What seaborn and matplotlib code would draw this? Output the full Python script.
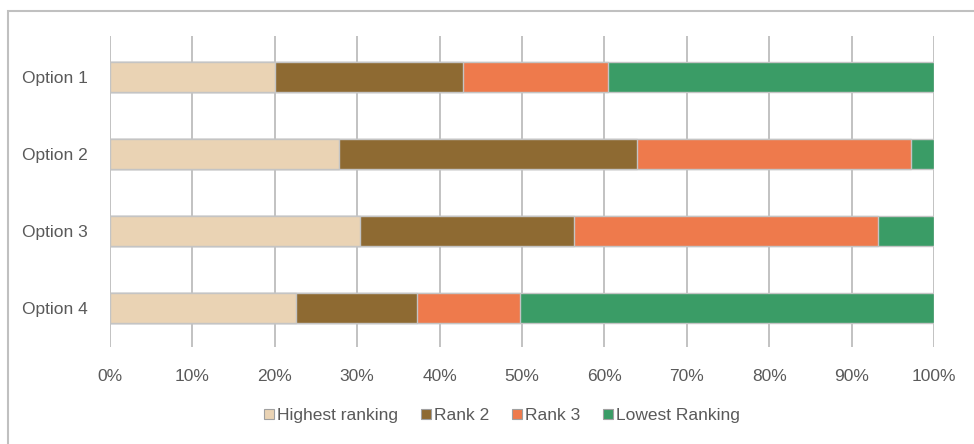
import matplotlib
matplotlib.use("Agg")
import matplotlib.pyplot as plt
import seaborn as sns
import pandas as pd
import numpy as np
from matplotlib.patches import Rectangle
from matplotlib.lines import Line2D

options = ["Option 1", "Option 2", "Option 3", "Option 4"]
series = ["Highest ranking", "Rank 2", "Rank 3", "Lowest Ranking"]
highest = [20.0, 27.8, 30.4, 22.6]
rank2 = [22.8, 36.2, 25.9, 14.7]
rank3 = [17.6, 33.2, 36.9, 12.4]
lowest = [39.6, 2.8, 6.8, 50.3]
colors = ["#ead3b4", "#8e6a32", "#ee7a4c", "#3a9c66"]
xticks = [0, 10, 20, 30, 40, 50, 60, 70, 80, 90, 100]
xticklabels = [f"{v}%" for v in xticks]

sns.set_theme(style="white")
plt.rcParams["font.family"] = ["Liberation Sans", "DejaVu Sans"]

W, H = 974, 444
fig = plt.figure(figsize=(W / 100, H / 100), dpi=100)
ax = fig.add_axes([110 / W, 1 - 347 / H, 824 / W, (347 - 36) / H])

vals = np.array([highest, rank2, rank3, lowest])
cum = np.cumsum(vals, axis=0)
for i in range(len(series) - 1, -1, -1):
    df = pd.DataFrame({"option": options, "value": cum[i]})
    sns.barplot(data=df, y="option", x="value", orient="h", color=colors[i],
                saturation=1, width=0.39, edgecolor="#c4c4c4", linewidth=1.0,
                ax=ax, zorder=2)

ax.set_xlim(0, 100)
ax.set_ylim(3.5, -0.53)
ax.set_xticks(xticks)
ax.set_xticklabels(xticklabels)
ax.set_xlabel("")
ax.set_ylabel("")
for v in xticks:
    ax.axvline(v, color="#bdbdbd", lw=1.3, zorder=1)
for s in ax.spines.values():
    s.set_visible(False)
ax.tick_params(axis="both", length=0, labelsize=12.5, colors="#5a5a5a")
ax.tick_params(axis="x", pad=16)
ax.tick_params(axis="y", pad=16)

handles = [Line2D([0], [0], marker="s", linestyle="none", markersize=7,
                  markerfacecolor=c, markeredgecolor="#a0a0a0", markeredgewidth=0.8)
           for c in colors]
fig.legend(handles, series, loc="center", bbox_to_anchor=(501 / W, 1 - 415 / H),
           ncol=4, frameon=False, fontsize=12.5, handletextpad=0.05,
           columnspacing=1.2, handlelength=0.8, labelcolor="#5a5a5a")

fig.patches.append(Rectangle((8 / W, -0.1), 1.2, 1 - 11 / H + 0.1,
                             transform=fig.transFigure, fill=False,
                             edgecolor="#c0c0c0", lw=1.5))

fig.savefig("out.png", dpi=100)
